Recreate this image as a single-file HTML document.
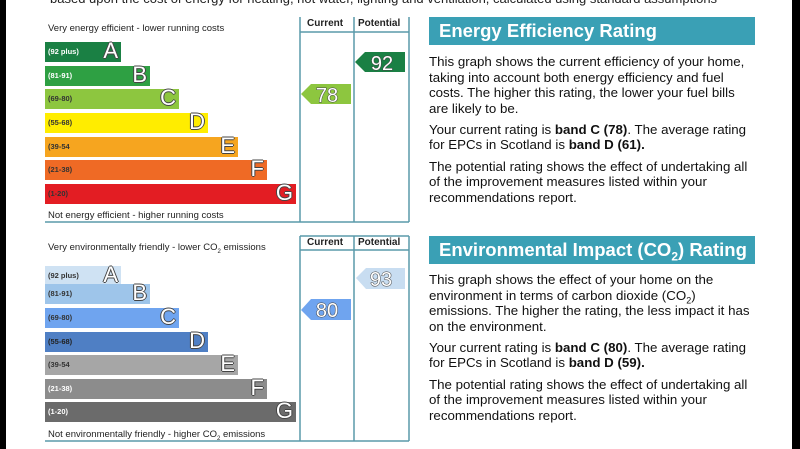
<!DOCTYPE html>
<html><head><meta charset="utf-8"><style>
body{margin:0;width:800px;height:449px;background:#fff;position:relative;overflow:hidden;font-family:"Liberation Sans",sans-serif}
.a{position:absolute}
.bar{position:absolute;left:45px;height:20px}
.bar .r{position:absolute;left:3px;top:5px;font-size:7.5px;font-weight:bold;color:#fff}
.bar .l{position:absolute;right:3px;top:-3px;font-size:22px;line-height:24px;color:#fff;text-shadow:-1px 0 #444,1px 0 #444,0 -1px #444,0 1px #444}
.hd{position:absolute;font-size:10px;font-weight:bold;color:#222}
.sm{position:absolute;font-size:9.5px;color:#222;left:48px;line-height:11px}
.ttl{position:absolute;left:429px;width:326px;height:28px;background:#3aa0b5;color:#fff;font-weight:bold;font-size:18.5px;line-height:28px;padding-left:10px;box-sizing:border-box}
.txt{position:absolute;left:429px;width:322px;font-size:13.3px;line-height:15.6px;color:#111}
.txt p{margin:0 0 5.5px 0}
sub{line-height:0}
</style></head><body>
<div class="a" style="left:0;top:0;width:6px;height:449px;background:#000"></div>
<div class="a" style="left:792px;top:0;width:8px;height:449px;background:#000"></div>
<div class="a" style="left:50px;top:-9px;font-size:13px;color:#222;white-space:nowrap">based upon the cost of energy for heating, hot water, lighting and ventilation, calculated using standard assumptions</div>

<svg class="a" style="left:0;top:0" width="800" height="449">
<g stroke="#5a9aaa" stroke-width="1.5" fill="none">
<line x1="300" y1="17" x2="300" y2="222"/><line x1="354" y1="17" x2="354" y2="222"/><line x1="409" y1="17" x2="409" y2="222"/>
<line x1="300" y1="32" x2="409" y2="32"/><line x1="45" y1="222" x2="409" y2="222"/>
<line x1="300" y1="236" x2="409" y2="236"/><line x1="300" y1="236" x2="300" y2="441"/><line x1="354" y1="236" x2="354" y2="441"/><line x1="409" y1="236" x2="409" y2="441"/>
<line x1="300" y1="250" x2="409" y2="250"/><line x1="45" y1="441" x2="409" y2="441"/>
</g>
<polygon points="301,94 311,84 351,84 351,104 311,104" fill="#8dc63f"/>
<polygon points="355,62 365,52 405,52 405,72 365,72" fill="#1a8044"/>
<polygon points="301,310 311,299 351,299 351,320 311,320" fill="#6fa4ef"/>
<polygon points="356,278 366,268 405,268 405,289 366,289" fill="#c8ddf1"/>
<g font-family="Liberation Sans" font-size="20" text-anchor="middle" fill="#fff" stroke="#444" stroke-width="1" paint-order="stroke">
<text x="327" y="102">78</text><text x="382" y="70">92</text><text x="327" y="317">80</text><text x="381" y="286">93</text>
</g>
</svg>

<div class="hd" style="left:307px;top:18px">Current</div><div class="hd" style="left:358px;top:18px">Potential</div>
<div class="hd" style="left:307px;top:237px">Current</div><div class="hd" style="left:358px;top:237px">Potential</div>
<div class="sm" style="top:23px">Very energy efficient - lower running costs</div>
<div class="sm" style="top:210px">Not energy efficient - higher running costs</div>
<div class="sm" style="top:242px">Very environmentally friendly - lower CO<sub style="font-size:6px">2</sub> emissions</div>
<div class="sm" style="top:429px">Not environmentally friendly - higher CO<sub style="font-size:6px">2</sub> emissions</div>

<div class="bar" style="top:42px;width:76px;background:#1a8044"><span class="r">(92 plus)</span><span class="l">A</span></div>
<div class="bar" style="top:66px;width:105px;background:#2ea043"><span class="r">(81-91)</span><span class="l">B</span></div>
<div class="bar" style="top:89px;width:134px;background:#8dc63f"><span class="r" style="color:#333">(69-80)</span><span class="l">C</span></div>
<div class="bar" style="top:113px;width:163px;background:#ffed00"><span class="r" style="color:#333">(55-68)</span><span class="l">D</span></div>
<div class="bar" style="top:137px;width:193px;background:#f6a51f"><span class="r" style="color:#333">(39-54</span><span class="l">E</span></div>
<div class="bar" style="top:160px;width:222px;background:#ef6a25"><span class="r" style="color:#333">(21-38)</span><span class="l">F</span></div>
<div class="bar" style="top:184px;width:251px;background:#e31d23"><span class="r" style="color:#333">(1-20)</span><span class="l">G</span></div>

<div class="bar" style="top:266px;width:76px;background:#cfe2f3"><span class="r" style="color:#333">(92 plus)</span><span class="l">A</span></div>
<div class="bar" style="top:284px;width:105px;background:#9ec5ea"><span class="r" style="color:#333">(81-91)</span><span class="l">B</span></div>
<div class="bar" style="top:308px;width:134px;background:#6fa4ef"><span class="r" style="color:#333">(69-80)</span><span class="l">C</span></div>
<div class="bar" style="top:332px;width:163px;background:#4f7fc4"><span class="r" style="color:#222">(55-68)</span><span class="l">D</span></div>
<div class="bar" style="top:355px;width:193px;background:#a6a6a6"><span class="r" style="color:#333">(39-54</span><span class="l">E</span></div>
<div class="bar" style="top:379px;width:222px;background:#8c8c8c"><span class="r">(21-38)</span><span class="l">F</span></div>
<div class="bar" style="top:402px;width:251px;background:#6b6b6b"><span class="r">(1-20)</span><span class="l">G</span></div>

<div class="ttl" style="top:17px">Energy Efficiency Rating</div>
<div class="txt" style="top:54px">
<p>This graph shows the current efficiency of your home, taking into account both energy efficiency and fuel costs. The higher this rating, the lower your fuel bills are likely to be.</p>
<p>Your current rating is <b>band C (78)</b>. The average rating for EPCs in Scotland is <b>band D (61).</b></p>
<p>The potential rating shows the effect of undertaking all of the improvement measures listed within your recommendations report.</p>
</div>
<div class="ttl" style="top:236px">Environmental Impact (CO<sub style="font-size:12px">2</sub>) Rating</div>
<div class="txt" style="top:272px">
<p>This graph shows the effect of your home on the environment in terms of carbon dioxide (CO<sub style="font-size:9px">2</sub>) emissions. The higher the rating, the less impact it has on the environment.</p>
<p>Your current rating is <b>band C (80)</b>. The average rating for EPCs in Scotland is <b>band D (59).</b></p>
<p>The potential rating shows the effect of undertaking all of the improvement measures listed within your recommendations report.</p>
</div>
</body></html>
